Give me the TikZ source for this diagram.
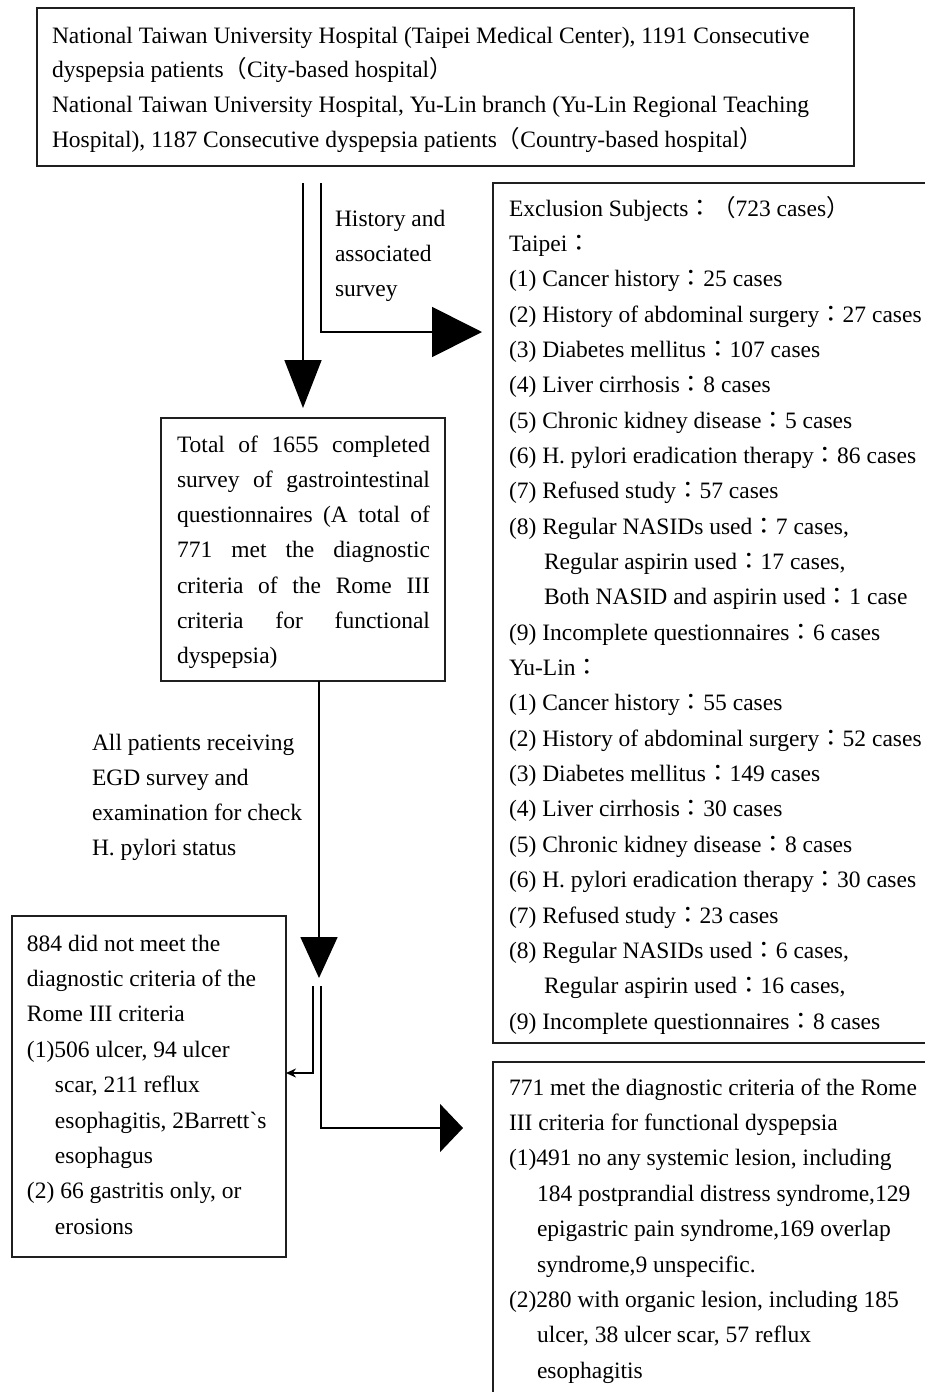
\documentclass[tikz,border=0pt]{standalone}
\usepackage{fontspec}
\setmainfont{Liberation Serif}
\newfontfamily\cjkfont{Noto Sans CJK TC}
\newfontfamily\rawserif{Liberation Serif}
\usetikzlibrary{arrows.meta}
\newcommand{\myc}{{\cjkfont ：}}
\newcommand{\mylp}{{\cjkfont （}}
\newcommand{\myrp}{{\cjkfont ）}}
\newcommand{\myst}{\rule{0pt}{25pt}}
\newcommand{\jl}[1]{\makebox[253pt][s]{#1}}
\begin{document}
\begin{tikzpicture}[x=1pt,y=-1pt,
  box/.style={draw=black!88, line width=2pt, anchor=north west, inner sep=0pt, outer sep=0pt},
  txt/.style={anchor=north west, inner sep=0pt, outer sep=0pt, align=left, font=\fontsize{23.5}{35.3}\selectfont},
  conn/.style={line width=1.7pt, draw=black},
  bigdown/.style={-{Triangle[width=37pt,length=48pt]}},
  bigright/.style={-{Triangle[width=50pt,length=50pt]}},
  middown/.style={-{Triangle[width=37pt,length=41pt]}},
  smallright/.style={-{Triangle[width=48pt,length=23pt]}},
  smallleft/.style={-{Stealth[width=9pt,length=10pt]}}
]
\useasboundingbox (0,0) rectangle (925,1392);
\clip (0,0) rectangle (925,1392);
\fill[white] (0,0) rectangle (925,1392);

% boxes
\node[box, minimum width=817pt, minimum height=158pt] (top) at (37,8) {};
\node[box, minimum width=284pt, minimum height=263pt] (tot) at (161,418) {};
\node[box, minimum width=460pt, minimum height=860pt] (excl) at (493,183) {};
\node[box, minimum width=274pt, minimum height=341pt] (left) at (12,916) {};
\node[box, minimum width=460pt, minimum height=400pt] (res) at (493,1062) {};

% texts
\node[txt, font=\fontsize{23.5}{34.7}\selectfont] (toptxt) at (52,18) {\myst National Taiwan University Hospital (Taipei Medical Center), 1191 Consecutive\\
dyspepsia patients\mylp City-based hospital\myrp\\
National Taiwan University Hospital, Yu-Lin branch (Yu-Lin Regional Teaching\\
Hospital), 1187 Consecutive dyspepsia patients\mylp Country-based hospital\myrp};

\node[txt] (hist) at (335,201) {\myst History and\\associated\\survey};

\node[txt] (tottxt) at (177,427) {\myst\jl{Total of 1655 completed}\\
\jl{survey of gastrointestinal}\\
\jl{questionnaires (A total of}\\
\jl{771 met the diagnostic}\\
\jl{criteria of the Rome III}\\
\jl{criteria for functional}\\
dyspepsia)};

\node[txt, font=\fontsize{23.5}{35.35}\selectfont] (excltxt) at (509,191) {\myst Exclusion Subjects\myc\mylp 723 cases\myrp\\
Taipei\myc\\
(1) Cancer history\myc 25 cases\\
(2) History of abdominal surgery\myc 27 cases\\
(3) Diabetes mellitus\myc 107 cases\\
(4) Liver cirrhosis\myc 8 cases\\
(5) Chronic kidney disease\myc 5 cases\\
(6) H. pylori eradication therapy\myc 86 cases\\
(7) Refused study\myc 57 cases\\
(8) Regular NASIDs used\myc 7 cases,\\
\hspace*{35pt}Regular aspirin used\myc 17 cases,\\
\hspace*{35pt}Both NASID and aspirin used\myc 1 case\\
(9) Incomplete questionnaires\myc 6 cases\\
Yu-Lin\myc\\
(1) Cancer history\myc 55 cases\\
(2) History of abdominal surgery\myc 52 cases\\
(3) Diabetes mellitus\myc 149 cases\\
(4) Liver cirrhosis\myc 30 cases\\
(5) Chronic kidney disease\myc 8 cases\\
(6) H. pylori eradication therapy\myc 30 cases\\
(7) Refused study\myc 23 cases\\
(8) Regular NASIDs used\myc 6 cases,\\
\hspace*{35pt}Regular aspirin used\myc 16 cases,\\
(9) Incomplete questionnaires\myc 8 cases};

\node[txt] (egd) at (92,725) {\myst All patients receiving\\EGD survey and\\examination for check\\H. pylori status};

\node[txt, font=\fontsize{23.5}{35.4}\selectfont] (lefttxt) at (27,926) {\myst 884 did not meet the\\
diagnostic criteria of the\\
Rome III criteria\\
(1)506 ulcer, 94 ulcer\\
\hspace*{28pt}scar, 211 reflux\\
\hspace*{28pt}esophagitis, 2Barrett{\rawserif\symbol{96}}s\\
\hspace*{28pt}esophagus\\
(2) 66 gastritis only, or\\
\hspace*{28pt}erosions};

\node[txt, font=\fontsize{23.5}{35.4}\selectfont] (restxt) at (509,1070) {\myst 771 met the diagnostic criteria of the Rome\\
III criteria for functional dyspepsia\\
(1)491 no any systemic lesion, including\\
\hspace*{28pt}184 postprandial distress syndrome,129\\
\hspace*{28pt}epigastric pain syndrome,169 overlap\\
\hspace*{28pt}syndrome,9 unspecific.\\
(2)280 with organic lesion, including 185\\
\hspace*{28pt}ulcer, 38 ulcer scar, 57 reflux\\
\hspace*{28pt}esophagitis};

% connectors
\draw[conn, bigdown, shorten <=17pt, shorten >=10pt] (303,0 |- top.south) -- (303,0 |- tot.north);
\draw[conn, bigright, shorten <=17pt, shorten >=11pt] (321,0 |- top.south) |- (excl.west |- 0,332);
\coordinate (split) at (319,978);
\draw[conn, middown] (319,0 |- tot.south) -- (split);
\coordinate (sl) at (313,986);
\coordinate (sr) at (321,986);
\draw[conn, smallleft] (sl) |- (left.east |- 0,1073);
\draw[conn, smallright, shorten >=30pt] (sr) |- (res.west |- 0,1128);
\end{tikzpicture}
\end{document}
